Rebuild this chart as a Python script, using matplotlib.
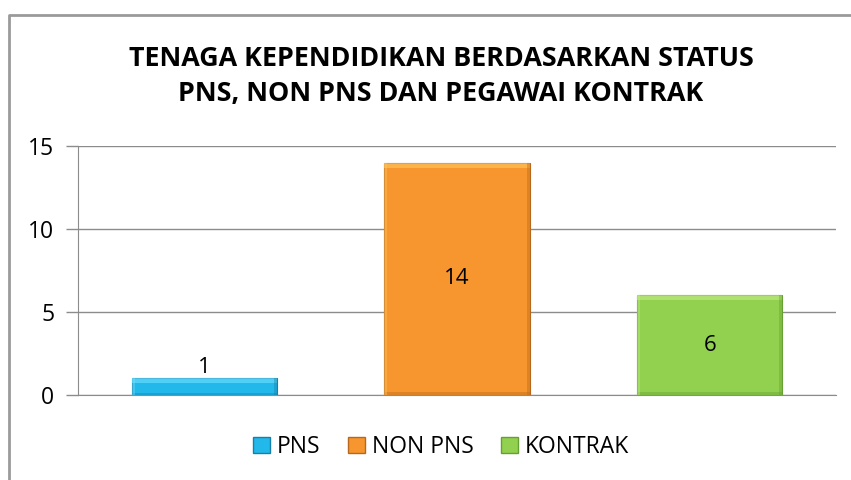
import matplotlib
matplotlib.use("Agg")
import matplotlib.pyplot as plt
from matplotlib.lines import Line2D
from matplotlib.patches import Rectangle

plt.rcParams['font.family'] = ['Open Sans', 'DejaVu Sans']

# data
categories = ["PNS", "NON PNS", "KONTRAK"]
values = [1, 14, 6]
title = "TENAGA KEPENDIDIKAN BERDASARKAN STATUS\nPNS, NON PNS DAN PEGAWAI KONTRAK"
yticks = [0, 5, 10, 15]

face = ["#22B9EA", "#F7962E", "#92D050"]
light = ["#6FE0FF", "#FFC860", "#C2EE88"]
dark = ["#1680A8", "#B8681C", "#67A032"]

fig = plt.figure(figsize=(8.51, 4.8), dpi=100)
ax = fig.add_axes([78 / 851, 1 - 395 / 480, (836 - 78) / 851, (395 - 146) / 480])

x = list(range(len(categories)))
w = 0.575
bars = ax.bar(x, values, width=w, color=face, edgecolor=dark, linewidth=0.8, zorder=3)

# simple bevel: lighter strip at the top, darker strip at the bottom
for i, v in enumerate(values):
    h = min(0.3, v * 0.25)
    ax.add_patch(Rectangle((i - w / 2, v - h), w, h, color=light[i], alpha=0.6, lw=0, zorder=4))
    ax.add_patch(Rectangle((i - w / 2, 0), w, h * 0.6, color=dark[i], alpha=0.4, lw=0, zorder=4))
    ax.add_patch(Rectangle((i + w / 2 - 0.012, 0), 0.012, v, color=dark[i], alpha=0.4, lw=0, zorder=4))
    ax.add_patch(Rectangle((i - w / 2, 0), 0.012, v, color=light[i], alpha=0.4, lw=0, zorder=4))

# data labels
for i, v in enumerate(values):
    if v < 2:
        ax.text(i, v + 0.02, str(v), ha="center", va="bottom", fontsize=16, zorder=5)
    else:
        ax.text(i, v / 2, str(v), ha="center", va="center", fontsize=16, zorder=5)

ax.set_xlim(-0.5, 2.5)
ax.set_ylim(0, 15)
ax.set_yticks(yticks)
ax.set_yticklabels([str(t) for t in yticks], fontsize=16.5)
ax.set_xticks([])
ax.tick_params(axis="y", length=9, color="#8C8C8C", width=1, pad=8)
ax.yaxis.grid(True, color="#8C8C8C", linewidth=1, zorder=0)
for s in ["top", "right"]:
    ax.spines[s].set_visible(False)
ax.spines["left"].set_color("#8C8C8C")
ax.spines["bottom"].set_color("#8C8C8C")

fig.text(441 / 851, 1 - 77 / 480, title, ha="center", va="center",
         fontsize=19.4, fontweight="bold", linespacing=1.45)

# legend
handles = [Rectangle((0, 0), 1, 1, facecolor=face[i], edgecolor=dark[i]) for i in range(3)]
fig.legend(handles, categories, loc="center", bbox_to_anchor=(441 / 851, 1 - 447 / 480),
           ncol=3, frameon=False, fontsize=16.5, handlelength=0.75, handleheight=0.75,
           handletextpad=0.3, columnspacing=1.2)

# outer chart border (left and top visible)
fig.add_artist(Line2D([8.5 / 851, 8.5 / 851, 1], [0, 1 - 15 / 480, 1 - 15 / 480],
                      color="#9A9A9A", linewidth=2))

fig.savefig("out.png", dpi=100)
